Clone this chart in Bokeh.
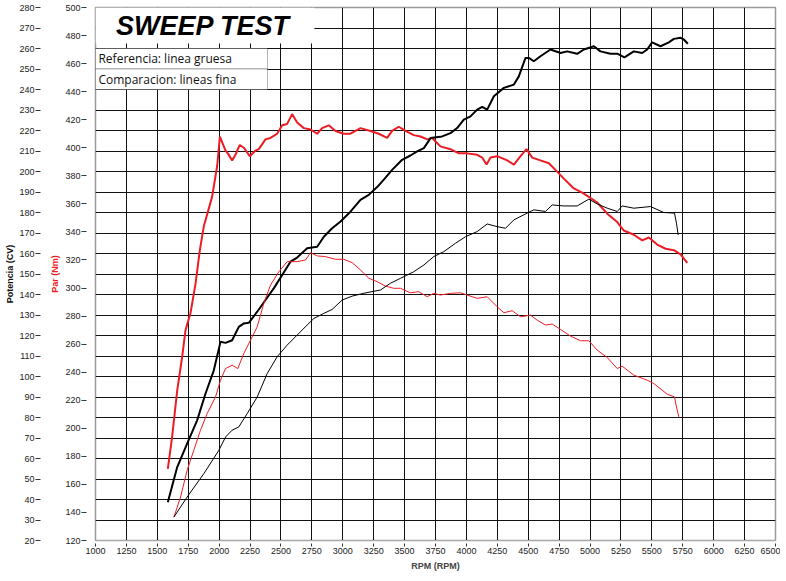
from bokeh.plotting import figure
from bokeh.models import Range1d, LinearAxis, FixedTicker, Grid, BoxAnnotation, Label
from bokeh.embed import file_html
from bokeh.resources import INLINE

# ---- data -------------------------------------------------------------
rpm_ticks = list(range(1000, 6501, 250))
cv_ticks = list(range(20, 281, 10))
par_ticks = list(range(120, 501, 20))

# Reference (thick) torque, Nm
ref_par_rpm = [1585,1620,1661,1701,1728,1768,1809,1844,1876,1943,
               1984,2006,2052,2070,2105,2132,2167,2200,2248,2294,
               2321,2375,2415,2469,2510,2550,2590,2631,2685,2739,
               2793,2833,2887,2941,3008,3062,3143,3224,3291,3359,
               3399,3453,3507,3574,3629,3683,3723,3790,3871,3939,
               4006,4087,4128,4163,4195,4249,4330,4384,4438,4486,
               4532,4599,4667,4734,4788,4869,4936,4990,5058,5139,
               5220,5273,5354,5422,5476,5543,5611,5678,5732,5786]
ref_par = [171,194,227,251,270,282,303,327,344,365,
           387,408,398,396,391,395,402,400,394,398,
           399,406,407,410,416,417,424,418,414,413,
           410,414,416,412,410,410,414,412,410,407,
           412,415,412,409,408,406,407,401,399,396,
           396,395,393,388,393,394,391,388,394,399,
           393,391,389,383,378,371,368,365,361,353,
           347,341,338,334,336,331,328,327,324,318]

# Reference (thick) power, CV
ref_cv_rpm = [1585,1661,1741,1822,1890,1957,2011,2052,2105,2159,
              2200,2240,2308,2375,2442,2510,2577,2631,2712,2793,
              2847,2914,2982,3062,3143,3210,3278,3332,3399,3480,
              3547,3602,3656,3710,3804,3871,3925,3979,4033,4087,
              4128,4168,4222,4303,4384,4424,4478,4505,4545,4599,
              4680,4761,4815,4896,4950,5031,5084,5165,5220,5278,
              5354,5422,5462,5502,5570,5637,5678,5732,5758,5791]
ref_cv = [38.7,55.8,67.3,78.6,91.7,103,116.9,116.4,117.7,124.2,
          125.9,126.2,131.6,137.3,143,149.5,156,158,162.6,163.3,
          168.2,172.3,175.6,180.4,186.2,188.6,192.4,196,200.8,205.7,
          207.8,209.8,211.4,216.3,217.1,218.7,221.2,225.3,226.9,230.2,
          231.5,230.2,236.7,240.8,242.4,246.4,255.4,255.4,253.8,256.2,
          259.5,257.8,258.6,257.4,259.5,261.1,258.6,257.4,257.5,255.7,
          258.6,257.8,259.5,263,261.1,263,264.7,265.2,264.4,262.3]

# Comparison (thin) power, CV
cmp_cv_rpm = [1634,1741,1876,1998,2052,2105,2159,2227,2308,2389,
              2469,2550,2631,2712,2766,2847,2914,2995,3076,3170,
              3305,3386,3467,3574,3656,3736,3817,3912,3993,4087,
              4168,4249,4316,4384,4491,4545,4640,4694,4788,4896,
              4990,5058,5139,5220,5260,5354,5489,5597,5683,5699,
              5713]
cmp_cv = [31.4,41.2,52.6,64,70.5,73.8,75.4,81.9,90,101.5,
          109.6,115.3,120.2,125.1,128.3,130.8,132.7,137.3,139.2,140.6,
          142.2,145.5,147.9,151.1,154.4,158.5,160.9,165,168.2,170.7,
          174.4,173.1,172.3,176.4,179.7,181.3,180.5,183.7,183.2,183.2,
          186.5,184.2,182.1,180.5,183.2,182.1,182.9,180,179.7,174.8,
          169.1]

# Comparison (thin) torque, Nm
cmp_par_rpm = [1634,1688,1741,1795,1849,1903,1971,2011,2052,2105,
               2151,2200,2254,2308,2361,2415,2483,2550,2631,2699,
               2739,2793,2860,2941,3008,3076,3143,3210,3278,3345,
               3413,3467,3547,3615,3683,3736,3790,3871,3952,4006,
               4087,4168,4249,4303,4370,4438,4519,4572,4640,4694,
               4761,4842,4923,4990,5058,5139,5220,5260,5354,5462,
               5516,5624,5683,5699,5718]
cmp_par = [136.6,151,170,184.3,198.6,210.5,222.4,234.3,242.6,245,
           242.6,253.4,262.9,272.4,289,302,311.6,318.8,318.8,320,
           325.2,322.9,322.4,320.5,320.5,318.1,312.9,307,304.5,301.4,
           299.8,299.8,296.6,297.4,293.8,296.2,295,296.2,296.6,295,
           292.6,293.8,286.6,282.4,283.8,279.5,280.7,277.1,273.6,274.3,
           270.5,265.7,262.4,262.4,255.7,250.5,242.6,244.3,237.9,234.3,
           231.9,224.3,222.4,215.2,208.1]

title_text = "SWEEP TEST"
legend_texts = ["Referencia: linea gruesa", "Comparacion: lineas fina"]

RED = "#ec1c24"
FONT = "Liberation Sans"

# ---- figure -------------------------------------------------------------
p = figure(width=780, height=573, output_backend="svg", toolbar_location=None,
           x_range=Range1d(1000, 6500), y_range=Range1d(20, 280),
           x_axis_location=None, y_axis_location=None,
           min_border_left=95, min_border_right=5, min_border_top=7, min_border_bottom=0)
p.extra_y_ranges = {"par": Range1d(120, 500)}
p.background_fill_color = "white"
p.border_fill_color = "white"
p.outline_line_color = "#9a9a9a"
p.outline_line_width = 1.5

def style_axis(ax, tin, tout):
    ax.axis_line_color = None
    ax.major_tick_in = tin
    ax.major_tick_out = tout
    ax.minor_tick_out = 0
    ax.minor_tick_in = 0
    ax.major_tick_line_color = "#333333"
    ax.major_label_text_font = FONT
    ax.major_label_text_font_size = "9px"
    ax.major_label_text_color = "#222222"
    ax.major_label_standoff = 1
    ax.axis_label_text_font = FONT
    ax.axis_label_text_font_style = "bold"
    ax.axis_label_text_font_size = "9px"

# inner left axis: Par (Nm)
ax_par = LinearAxis(y_range_name="par", ticker=FixedTicker(ticks=par_ticks),
                    axis_label="Par (Nm)")
style_axis(ax_par, -9, 14)
ax_par.axis_label_text_color = RED
ax_par.axis_label_standoff = 2
p.add_layout(ax_par, "left")

# outer left axis: Potencia (CV)
ax_cv = LinearAxis(ticker=FixedTicker(ticks=cv_ticks), axis_label="Potencia (CV)")
style_axis(ax_cv, -7, 12)
ax_cv.axis_label_text_color = "#111111"
ax_cv.axis_label_standoff = 1
p.add_layout(ax_cv, "left")

# bottom axis
ax_x = LinearAxis(ticker=FixedTicker(ticks=rpm_ticks), axis_label="RPM (RPM)")
style_axis(ax_x, -3, 6)
ax_x.axis_line_color = "#aaaaaa"
ax_x.axis_label_standoff = 4
p.add_layout(ax_x, "below")

# grids
p.add_layout(Grid(dimension=0, ticker=FixedTicker(ticks=rpm_ticks),
                  grid_line_color="#111111", grid_line_width=1))
p.add_layout(Grid(dimension=1, ticker=FixedTicker(ticks=cv_ticks),
                  grid_line_color="#111111", grid_line_width=1))

# curves
p.line(ref_par_rpm, ref_par, y_range_name="par", line_color=RED, line_width=2)
p.line(ref_cv_rpm, ref_cv, line_color="black", line_width=2)
p.line(cmp_par_rpm, cmp_par, y_range_name="par", line_color=RED, line_width=1)
p.line(cmp_cv_rpm, cmp_cv, line_color="black", line_width=1)

# title box & legend boxes
p.add_layout(BoxAnnotation(left=1000, right=2770, top=280, bottom=262.4,
                           fill_color="white", fill_alpha=1, line_color=None))
p.add_layout(Label(x=1870, y=270.8, text=title_text, text_align="center",
                   text_baseline="alphabetic", text_font=FONT,
                   text_font_style="bold italic", text_font_size="27px",
                   text_color="black"))
for i, t in enumerate(legend_texts):
    top = 260 - 10 * i
    p.add_layout(BoxAnnotation(left=1000, right=2391, top=top, bottom=top - 10,
                               fill_color="white", fill_alpha=1,
                               line_color="black", line_width=1))
    p.add_layout(Label(x=1024, y=top - 5, text=t, text_baseline="middle",
                       text_font="Open Sans", text_font_size="12px",
                       text_color="#111111"))

open("out.html", "w").write(file_html(p, INLINE))
